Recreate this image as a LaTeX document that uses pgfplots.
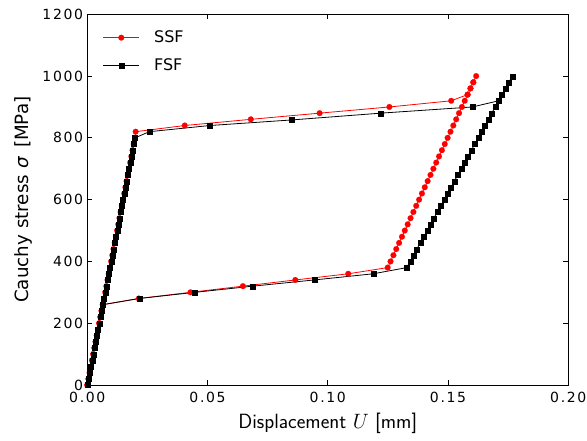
\documentclass[border=0pt]{standalone}
\usepackage{fontspec}
\usepackage{pgfplots}
\pgfplotsset{compat=1.18}
\newfontfamily\dejavu{DejaVu Sans}
\newfontfamily\dejavuwide[LetterSpace=12]{DejaVu Sans}
\newcommand\tickfont{\dejavuwide\fontsize{14}{16}\selectfont}
\newcommand\legfont{\dejavu\fontsize{16}{18}\selectfont}
\newcommand\ylabfont{\dejavu\fontsize{18.3}{21}\selectfont}
\newcommand\xlabfont{\sffamily\fontsize{20.6}{23}\selectfont}
\begin{document}
\begin{tikzpicture}
\begin{axis}[
  scale only axis,
  width=481pt, height=370.7pt,
  xmin=0, xmax=0.2, ymin=0, ymax=1200,
  xtick={0,0.05,0.1,0.15,0.2},
  xticklabels={0.00,0.05,0.10,0.15,0.20},
  ytick={0,200,400,600,800,1000,1200},
  yticklabels={0,200,400,600,800,1000,1200},
  tick align=inside,
  major tick length=5pt,
  minor tick num=0,
  axis line style={line width=0.9pt},
  every tick/.style={black, line width=0.9pt},
  xticklabel style={font=\tickfont, inner sep=0pt, anchor=north, yshift=-7pt},
  yticklabel style={font=\tickfont, inner sep=0pt, anchor=east, xshift=-4pt},
  legend style={at={(rel axis cs:0,1)}, anchor=north west, xshift=15.4pt, yshift=-16.5pt,
    draw=none, fill=none, inner sep=0pt, row sep=14pt, font=\legfont,
    nodes={inner sep=0pt},
    /tikz/every odd column/.append style={column sep=14.4pt}},
  legend cell align=left,
  legend image code/.code={\draw[mark repeat=2,mark phase=2,#1] plot coordinates {(0pt,0pt) (18pt,0pt) (36pt,0pt)};},
  clip=false,
]
\addplot[red, line width=0.8pt, mark=*, mark size=2.9pt, mark options={fill=red, draw=red, line width=0.1pt}] coordinates {
(0,0)(0.000495,20)(0.00099,40)(0.001485,60)(0.00198,80)(0.002475,100)(0.00297,120)(0.003465,140)(0.00396,160)(0.004455,180)(0.00495,200)(0.005446,220)(0.00594,240)(0.006436,260)(0.00693,280)(0.007426,300)(0.00792,320)(0.008416,340)(0.00891,360)(0.009406,380)(0.0099,400)(0.0104,420)(0.01089,440)(0.01139,460)(0.01188,480)(0.01238,500)(0.01287,520)(0.01337,540)(0.01386,560)(0.01436,580)(0.01485,600)(0.01535,620)(0.01584,640)(0.01634,660)(0.01683,680)(0.01733,700)(0.01782,720)(0.01832,740)(0.01881,760)(0.01931,780)(0.0198,800)
(0.0201,820)(0.0405,840)(0.068,860)(0.0966,880)(0.1256,900)(0.1513,920)
(0.15813,940)(0.15932,960)(0.16050,980)(0.16169,1000)
(0.16050,980)(0.15932,960)(0.15813,940)(0.15694,920)(0.15576,900)(0.15457,880)(0.15338,860)(0.15220,840)(0.15101,820)(0.14982,800)(0.14864,780)(0.14745,760)(0.14626,740)(0.14508,720)(0.14389,700)(0.14270,680)(0.14152,660)(0.14033,640)(0.13914,620)(0.13796,600)(0.13677,580)(0.13558,560)(0.13440,540)(0.13321,520)(0.13202,500)(0.13084,480)(0.12965,460)(0.12846,440)(0.12728,420)(0.12609,400)(0.1249,380)
(0.1085,360)(0.0865,340)(0.0647,320)(0.0429,300)(0.0214,280)(0.006436,260)
(0.00594,240)(0.005446,220)(0.00495,200)(0.004455,180)(0.00396,160)(0.003465,140)(0.00297,120)(0.002475,100)(0.00198,80)(0.001485,60)(0.00099,40)(0.000495,20)(0,0)
};
\addlegendentry{SSF}
\addplot[black, line width=0.8pt, mark=square*, mark size=2.5pt, mark options={fill=black, draw=black, line width=0.1pt}] coordinates {
(0,0)(0.000495,20)(0.00099,40)(0.001485,60)(0.00198,80)(0.002475,100)(0.00297,120)(0.003465,140)(0.00396,160)(0.004455,180)(0.00495,200)(0.005446,220)(0.00594,240)(0.006436,260)(0.00693,280)(0.007426,300)(0.00792,320)(0.008416,340)(0.00891,360)(0.009406,380)(0.0099,400)(0.0104,420)(0.01089,440)(0.01139,460)(0.01188,480)(0.01238,500)(0.01287,520)(0.01337,540)(0.01386,560)(0.01436,580)(0.01485,600)(0.01535,620)(0.01584,640)(0.01634,660)(0.01683,680)(0.01733,700)(0.01782,720)(0.01832,740)(0.01881,760)(0.01931,780)(0.0198,800)
(0.0258,820)(0.051,840)(0.085,858)(0.122,880)(0.1601,900)
(0.17103,920)(0.17245,940)(0.17386,960)(0.17528,980)(0.17670,1000)
(0.17528,980)(0.17386,960)(0.17245,940)(0.17103,920)(0.16962,900)(0.16820,880)(0.16678,860)(0.16537,840)(0.16395,820)(0.16254,800)(0.16112,780)(0.15970,760)(0.15829,740)(0.15687,720)(0.15546,700)(0.15404,680)(0.15262,660)(0.15121,640)(0.14979,620)(0.14838,600)(0.14696,580)(0.14554,560)(0.14413,540)(0.14271,520)(0.14130,500)(0.13988,480)(0.13846,460)(0.13705,440)(0.13563,420)(0.13422,400)(0.1328,380)
(0.1189,360)(0.0943,340)(0.0689,320)(0.0448,300)(0.0216,280)(0.006436,260)
(0.00594,240)(0.005446,220)(0.00495,200)(0.004455,180)(0.00396,160)(0.003465,140)(0.00297,120)(0.002475,100)(0.00198,80)(0.001485,60)(0.00099,40)(0.000495,20)(0,0)
};
\addlegendentry{FSF}
\end{axis}
\path (current axis.south) ++(0,-44pt) node[anchor=base, inner sep=0pt] {\xlabfont Displacement $U$ [mm]};
\path (current axis.west) ++(-58.7pt,0) node[rotate=90, anchor=base, inner sep=0pt] {\ylabfont Cauchy stress \textit{σ}\, [MPa]};
\pgfresetboundingbox
\path[use as bounding box] (current axis.south west) ++(-87.3pt,-56pt) rectangle ([shift={(18.7pt,14.3pt)}]current axis.north east);
\end{tikzpicture}
\end{document}
